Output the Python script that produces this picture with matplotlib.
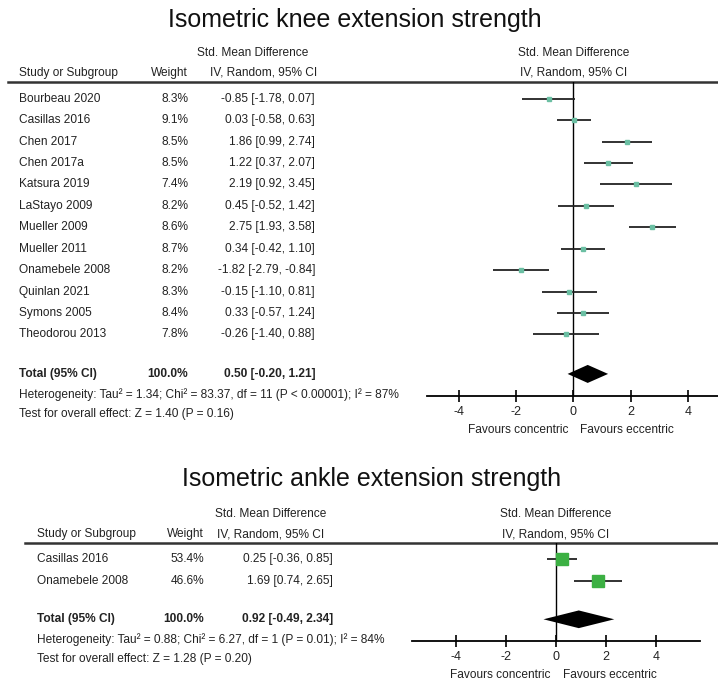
import numpy as np
import matplotlib
matplotlib.use("Agg")
from matplotlib import pyplot as plt
from matplotlib.transforms import blended_transform_factory

plt.rcParams['font.family'] = ['Liberation Sans', 'DejaVu Sans']

# knee extension data
knee_studies = ["Bourbeau 2020", "Casillas 2016", "Chen 2017", "Chen 2017a", "Katsura 2019",
                "LaStayo 2009", "Mueller 2009", "Mueller 2011", "Onamebele 2008", "Quinlan 2021",
                "Symons 2005", "Theodorou 2013"]
knee_weight = [8.3, 9.1, 8.5, 8.5, 7.4, 8.2, 8.6, 8.7, 8.2, 8.3, 8.4, 7.8]
knee_smd = [-0.85, 0.03, 1.86, 1.22, 2.19, 0.45, 2.75, 0.34, -1.82, -0.15, 0.33, -0.26]
knee_lo = [-1.78, -0.58, 0.99, 0.37, 0.92, -0.52, 1.93, -0.42, -2.79, -1.10, -0.57, -1.40]
knee_hi = [0.07, 0.63, 2.74, 2.07, 3.45, 1.42, 3.58, 1.10, -0.84, 0.81, 1.24, 0.88]
knee_total = [0.50, -0.20, 1.21]
knee_het = "Heterogeneity: Tau\u00b2 = 1.34; Chi\u00b2 = 83.37, df = 11 (P < 0.00001); I\u00b2 = 87%"
knee_test = "Test for overall effect: Z = 1.40 (P = 0.16)"

# ankle extension data
ankle_studies = ["Casillas 2016", "Onamebele 2008"]
ankle_weight = [53.4, 46.6]
ankle_smd = [0.25, 1.69]
ankle_lo = [-0.36, 0.74]
ankle_hi = [0.85, 2.65]
ankle_total = [0.92, -0.49, 2.34]
ankle_het = "Heterogeneity: Tau\u00b2 = 0.88; Chi\u00b2 = 6.27, df = 1 (P = 0.01); I\u00b2 = 84%"
ankle_test = "Test for overall effect: Z = 1.28 (P = 0.20)"

ticks = [-4, -2, 0, 2, 4]

W, H = 718, 682
fig = plt.figure(figsize=(W / 100, H / 100), dpi=100)
bg = fig.add_axes([0, 0, 1, 1])
bg.set_xlim(0, W)
bg.set_ylim(H, 0)
bg.axis('off')

FS = 8.6
TXT = '#222222'


def forest(title, title_xy, studies, weight, smd, lo, hi, total, het, test,
           box, cols, line_x0, sq_color, sq_scale):
    # box = (x0, x1, y_top, y_bottom) in pixels, xlim in data units
    x0, x1, yt, yb, xlim = box
    ax = fig.add_axes([x0 / W, 1 - yb / H, (x1 - x0) / W, (yb - yt) / H])
    n = len(studies)
    ax.set_xlim(*xlim)
    ax.set_ylim(n + 1.87, -0.78)
    for s in ['top', 'left', 'right']:
        ax.spines[s].set_visible(False)
    ax.spines['bottom'].set_linewidth(1.3)
    ax.set_yticks([])
    ax.set_xticks(ticks)
    ax.set_xticklabels([str(t) for t in ticks], fontsize=FS + 0.4, color=TXT)
    ax.tick_params(axis='x', direction='inout', length=9, width=1.2, pad=2.5)
    ax.patch.set_alpha(0)
    ax.axvline(0, color='black', lw=1)

    y = np.arange(n)
    ax.hlines(y, lo, hi, color='#222222', lw=1.3)
    for i in range(n):
        ax.plot(smd[i], y[i], 's', color=sq_color, mec=sq_color,
                ms=sq_scale * np.sqrt(weight[i]))

    yt_tot = n + 0.84
    est, tlo, thi = total
    dh = 0.42
    ax.fill([tlo, est, thi, est], [yt_tot, yt_tot - dh, yt_tot, yt_tot + dh],
            color='black', lw=0)

    ax.annotate("Favours concentric", xy=(0, 0), xycoords=('data', 'axes fraction'),
                xytext=(-3.5, -24.5), textcoords='offset points', ha='right', va='center',
                fontsize=FS, color=TXT)
    ax.annotate("Favours eccentric", xy=(0, 0), xycoords=('data', 'axes fraction'),
                xytext=(5, -24.5), textcoords='offset points', ha='left', va='center',
                fontsize=FS, color=TXT)

    # table to the left
    tr = blended_transform_factory(bg.transData, ax.transData)
    sx, wx, cx, hx, ivx = cols
    zero_px = ax.transData.transform((0, 0))[0]
    zx = bg.transData.inverted().transform((zero_px, 0))[0]
    kw = dict(transform=tr, va='center', fontsize=FS, color=TXT)
    bg.text(title_xy[0], title_xy[1], title, ha='center', va='center',
            fontsize=18, color='#111111')
    bg.text(hx, -2.15, "Std. Mean Difference", ha='center', **kw)
    bg.text(ivx, -1.2, "IV, Random, 95% CI", ha='center', **kw)
    bg.text(zx, -2.15, "Std. Mean Difference", ha='center', **kw)
    bg.text(zx, -1.2, "IV, Random, 95% CI", ha='center', **kw)
    bg.text(sx, -1.2, "Study or Subgroup", ha='left', **kw)
    bg.text(wx, -1.2, "Weight", ha='right', **kw)
    bg.plot([line_x0, W], [-0.78, -0.78], transform=tr, color='#333333', lw=1.8,
            clip_on=False)
    for i in range(n):
        bg.text(sx, y[i], studies[i], ha='left', **kw)
        bg.text(wx, y[i], f"{weight[i]:.1f}%", ha='right', **kw)
        bg.text(cx, y[i], f"{smd[i]:.2f} [{lo[i]:.2f}, {hi[i]:.2f}]", ha='right', **kw)
    bg.text(sx, yt_tot, "Total (95% CI)", ha='left', fontweight='bold', **kw)
    bg.text(wx, yt_tot, "100.0%", ha='right', fontweight='bold', **kw)
    bg.text(cx, yt_tot, f"{est:.2f} [{tlo:.2f}, {thi:.2f}]", ha='right',
            fontweight='bold', **kw)
    bg.text(sx, yt_tot + 0.95, het, ha='left', **kw)
    bg.text(sx, yt_tot + 1.88, test, ha='left', **kw)
    return ax


forest("Isometric knee extension strength", (355, 20), knee_studies, knee_weight, knee_smd,
       knee_lo, knee_hi, knee_total, knee_het, knee_test,
       (427, 718, 82, 396, (-5.10, 5.04)), (19, 188, 315, 253, 264), 8,
       '#6bbfa3', 1.0)

forest("Isometric ankle extension strength", (372, 479), ankle_studies, ankle_weight, ankle_smd,
       ankle_lo, ankle_hi, ankle_total, ankle_het, ankle_test,
       (412, 700, 543, 641, (-5.75, 5.77)), (37, 204, 333, 271, 271), 25,
       '#3cb043', 1.25)

fig.savefig("out.png", dpi=100)
